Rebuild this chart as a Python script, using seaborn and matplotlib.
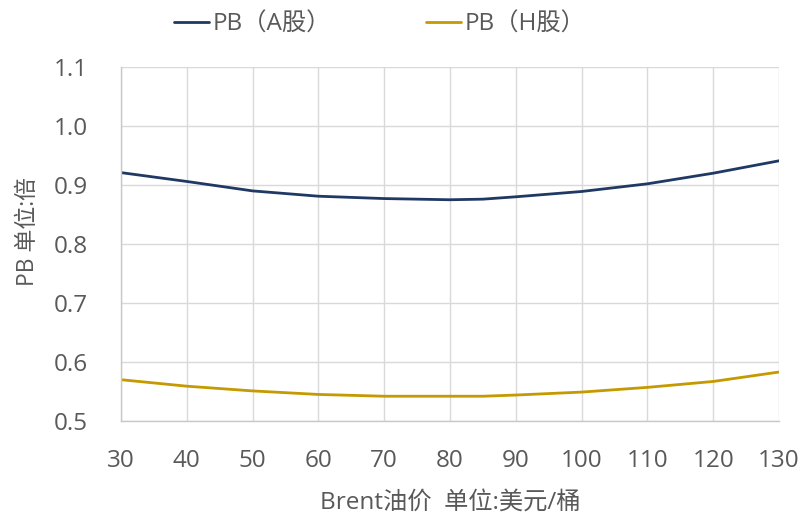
import matplotlib
matplotlib.use("Agg")
import matplotlib.pyplot as plt
import seaborn as sns
import pandas as pd

# Brent oil price scenarios (USD/bbl) and resulting PB multiples
oil_price = [30, 40, 50, 60, 70, 80, 85, 90, 100, 110, 120, 130]
pb_a = [0.921, 0.906, 0.890, 0.881, 0.877, 0.875, 0.876, 0.880, 0.889, 0.902, 0.920, 0.941]
pb_h = [0.570, 0.559, 0.551, 0.545, 0.542, 0.542, 0.542, 0.544, 0.549, 0.557, 0.567, 0.583]
series_names = ["PB（A股）", "PB（H股）"]
x_ticks = [30, 40, 50, 60, 70, 80, 90, 100, 110, 120, 130]
y_ticks = [0.5, 0.6, 0.7, 0.8, 0.9, 1.0, 1.1]

df = pd.concat([
    pd.DataFrame({"oil": oil_price, "pb": pb_a, "series": series_names[0]}),
    pd.DataFrame({"oil": oil_price, "pb": pb_h, "series": series_names[1]}),
])

sns.set_theme(style="white")
plt.rcParams["font.family"] = ["Open Sans", "Noto Sans CJK SC", "DejaVu Sans"]
text_color = "#595959"
grid_color = "#d9d9d9"

fig = plt.figure(figsize=(8.01, 5.15), dpi=100)
ax = fig.add_axes([121 / 801, 1 - 421 / 515, (779 - 121) / 801, (421 - 67) / 515])

sns.lineplot(data=df, x="oil", y="pb", hue="series",
             palette={series_names[0]: "#203864", series_names[1]: "#c49a00"},
             linewidth=2.0, ax=ax, legend=True)

ax.set_xlim(30, 130)
ax.set_ylim(0.5, 1.1)
ax.set_xticks(x_ticks)
ax.set_yticks(y_ticks)
ax.set_yticklabels([f"{v:.1f}" for v in y_ticks])
ax.grid(True, color=grid_color, linewidth=1.0)
ax.set_axisbelow(True)
for side in ["top", "right"]:
    ax.spines[side].set_visible(False)
for side in ["left", "bottom"]:
    ax.spines[side].set_color("#c8c8c8")
    ax.spines[side].set_linewidth(1.0)
ax.tick_params(axis="both", length=0, labelsize=17.5, colors=text_color)
ax.tick_params(axis="y", pad=24)
ax.tick_params(axis="x", pad=20)

ax.set_xlabel("Brent油价  单位:美元/桶", fontsize=17.5, color=text_color, labelpad=13)
ax.set_ylabel("PB 单位:倍", fontsize=16.5, color=text_color)
ax.yaxis.set_label_coords(-0.123, 0.535)

handles, labels = ax.get_legend_handles_labels()
leg = fig.legend(handles, labels, loc="center", bbox_to_anchor=(380 / 801, 1 - 25 / 515),
                 ncol=2, frameon=False, fontsize=17.5, handlelength=1.45, handletextpad=0.15,
                 columnspacing=3.9)
for t in leg.get_texts():
    t.set_color(text_color)
ax.get_legend().remove()

fig.savefig("out.png", dpi=100)
